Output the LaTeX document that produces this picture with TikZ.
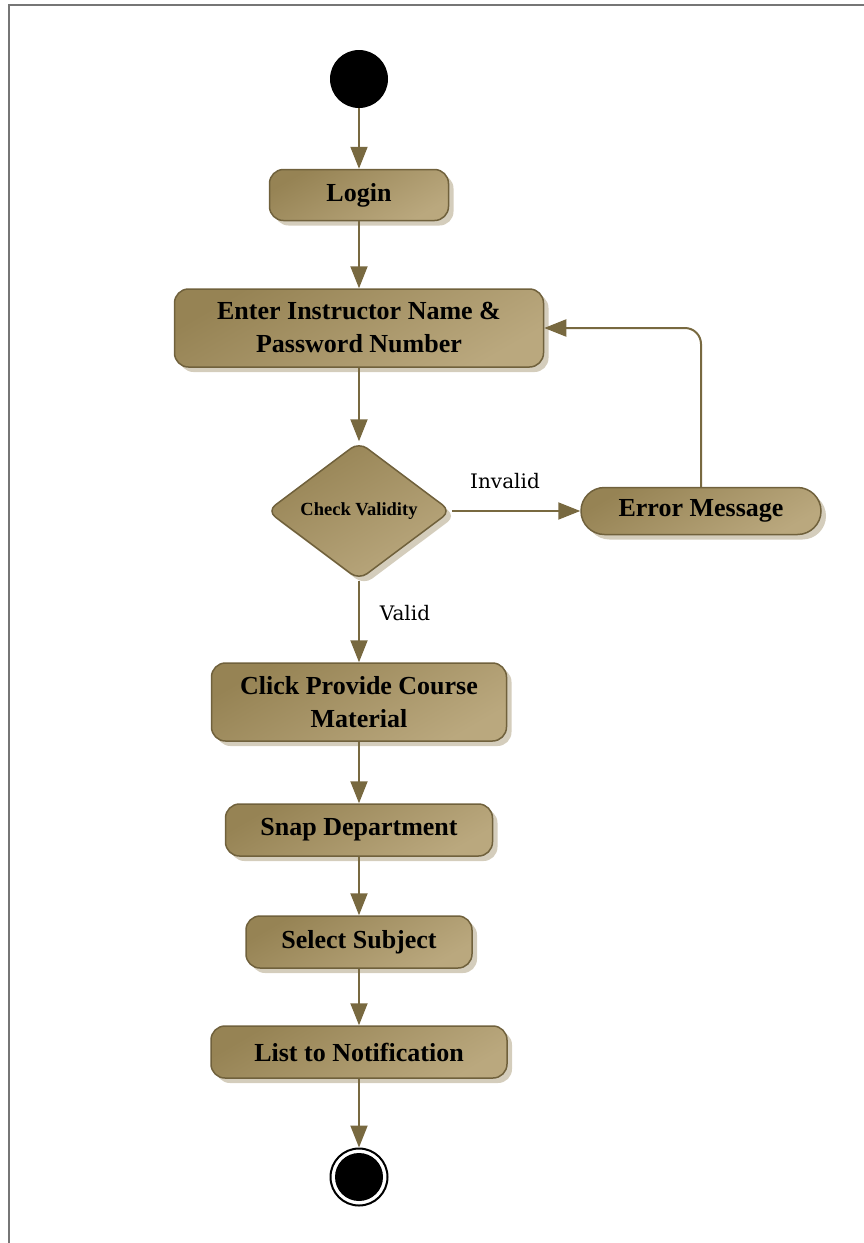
\documentclass[tikz,border=0pt]{standalone}
\usepackage{fontspec}
\setmainfont{Liberation Serif}
\newfontfamily\labelfont{DejaVu Serif}
\usetikzlibrary{shapes.geometric, arrows.meta, shadows}

\definecolor{boxdark}{RGB}{150,131,84}
\definecolor{boxlight}{RGB}{186,168,126}
\definecolor{boxedge}{RGB}{112,97,60}
\definecolor{flow}{RGB}{120,105,64}
\definecolor{shadowtone}{RGB}{212,205,188}
\definecolor{framegray}{RGB}{118,118,118}

\tikzset{
  boxshadow/.style={drop shadow={shadow xshift=5pt, shadow yshift=-5pt, fill=shadowtone, opacity=1}},
  activity/.style={draw=boxedge, line width=1.5pt, rounded corners=14pt,
    top color=boxdark, bottom color=boxlight, shading angle=30,
    boxshadow, inner sep=2pt, align=center,
    font=\bfseries\fontsize{26}{33}\selectfont},
  decision/.style={diamond, draw=boxedge, line width=1.5pt, rounded corners=10pt,
    top color=boxdark, bottom color=boxlight, shading angle=30,
    boxshadow, inner sep=1pt, minimum width=184pt, minimum height=138pt,
    font=\bfseries\fontsize{18.5}{22}\selectfont},
  startnode/.style={circle, fill=black, minimum size=58pt, inner sep=0pt},
  endnode/.style={circle, draw=black, line width=2pt, fill=white,
    minimum size=57pt, inner sep=0pt,
    path picture={\fill[black] (path picture bounding box.center) circle (24pt);}},
  flowline/.style={draw=flow, line width=2pt, -{Triangle[length=22pt, width=17pt]}},
  flowlabel/.style={font=\labelfont\fontsize{20}{24}\selectfont, inner sep=0pt},
}

\begin{document}
\begin{tikzpicture}[x=1pt, y=1pt]
  \useasboundingbox (0,0) rectangle (864,-1243);
  % page frame (top and left edges)
  \draw[framegray, line width=1.5pt] (9,-1243) -- (9,-5) -- (864,-5);

  % activities
  \node[startnode] (start) at (359,-79) {};
  \node[activity, minimum width=179pt, minimum height=51pt] (login) at (359,-195) {Login};
  \node[activity, minimum width=369pt, minimum height=78pt] (enter) at (359,-328)
    {Enter Instructor Name \&\\Password Number};
  \node[decision] (check) at (359,-511) {Check Validity};
  \node[activity, rounded corners=23.5pt, minimum width=240pt, minimum height=47pt] (error) at (701,-511) {Error Message};
  \node[activity, minimum width=295pt, minimum height=78pt] (click) at (359,-702)
    {Click Provide Course\\Material};
  \node[activity, minimum width=267pt, minimum height=52pt] (snap) at (359,-830) {Snap Department};
  \node[activity, minimum width=226pt, minimum height=52pt] (select) at (359,-942) {Select Subject};
  \node[activity, minimum width=296pt, minimum height=52pt] (list) at (359,-1052) {List to Notification};
  \node[endnode] (end) at (359,-1177) {};

  % guard labels
  \node[flowlabel] (invalid) at (505,-481) {Invalid};
  \node[flowlabel] (valid) at (405,-613) {Valid};

  % control flow
  \draw[flowline] (start) -- (login);
  \draw[flowline] (login) -- (enter);
  \draw[flowline] (enter) -- (check);
  \draw[flowline] (check) -- (error);
  \draw[flowline, rounded corners=16pt] (error.north) |- (enter.east);
  \draw[flowline] (check) -- (click);
  \draw[flowline] (click) -- (snap);
  \draw[flowline] (snap) -- (select);
  \draw[flowline] (select) -- (list);
  \draw[flowline] (list) -- (end);
\end{tikzpicture}
\end{document}
